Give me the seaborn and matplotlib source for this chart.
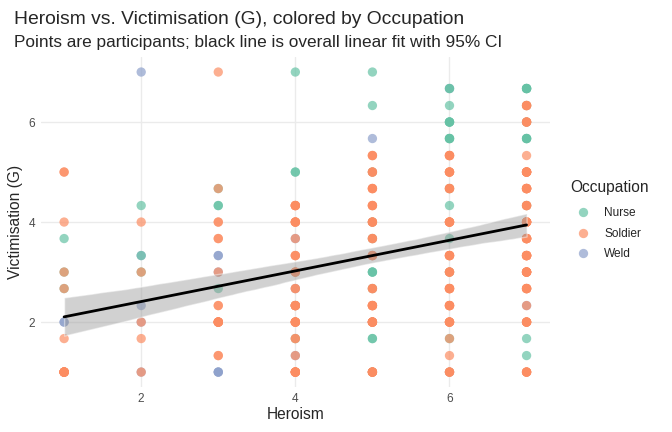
import matplotlib
matplotlib.use("Agg")
import matplotlib.pyplot as plt
import seaborn as sns
import pandas as pd

# participants: heroism, victimisation, occupation, how many stacked
heroism = [
    1, 1, 1, 1, 1, 1, 1, 1, 1, 1,
    2, 2, 2, 2, 2, 2, 2, 2, 2, 2, 2, 2, 2,
    3, 3, 3, 3, 3, 3, 3, 3, 3, 3, 3, 3, 3, 3,
    4, 4, 4, 4, 4, 4, 4, 4, 4, 4, 4, 4, 4, 4, 4, 4, 4, 4, 4,
    5, 5, 5, 5, 5, 5, 5, 5, 5, 5, 5, 5, 5, 5, 5, 5, 5, 5, 5, 5, 5, 5, 5,
    6, 6, 6, 6, 6, 6, 6, 6, 6, 6, 6, 6, 6, 6, 6, 6, 6, 6, 6, 6, 6, 6, 6,
    7, 7, 7, 7, 7, 7, 7, 7, 7, 7, 7, 7, 7, 7, 7, 7, 7, 7, 7, 7, 7, 7,
]
victimisation = [
    5, 4, 3.67, 3, 3, 2.67, 2.67, 2, 1.67, 1,
    7, 4.33, 4, 3.33, 3.33, 3, 3, 2.33, 2, 2, 1.67, 1, 1,
    7, 4.67, 4.67, 4.33, 4, 3.67, 3.33, 3, 3, 2.67, 2.33, 2, 1.33, 1,
    7, 5, 4.33, 4, 3.67, 3.67, 3.33, 3, 3, 2.67, 2.67, 2.33, 2.33, 2, 1.67, 1.67, 1.33, 1.33, 1,
    7, 6.33, 5.67, 5.33, 5, 5, 4.67, 4.33, 4, 4, 3.67, 3.67, 3.33, 3.33, 3, 2.67, 2.67, 2.33, 2, 2, 1.67, 1, 1,
    6.67, 6.67, 6.33, 6, 5.67, 5.33, 5, 4.67, 4.67, 4.33, 4, 3.67, 3.33, 3, 3, 2.67, 2.33, 2, 1.67, 1.67, 1.33, 1, 1,
    6.67, 6.33, 6.33, 6, 6, 5.67, 5.33, 5, 4.67, 4.33, 4.33, 4, 3.67, 3.33, 3, 2.67, 2.33, 2.33, 2, 1.67, 1.33, 1,
]
occupation = [
    "Soldier", "Soldier", "Nurse", "Soldier", "Nurse", "Soldier", "Nurse", "Weld", "Soldier", "Soldier",
    "Weld", "Nurse", "Soldier", "Nurse", "Weld", "Soldier", "Nurse", "Weld", "Soldier", "Weld", "Soldier", "Soldier", "Weld",
    "Soldier", "Soldier", "Nurse", "Nurse", "Soldier", "Soldier", "Weld", "Soldier", "Weld", "Nurse", "Soldier", "Soldier", "Soldier", "Weld",
    "Nurse", "Nurse", "Soldier", "Soldier", "Soldier", "Weld", "Soldier", "Soldier", "Nurse", "Soldier", "Weld", "Soldier", "Nurse", "Soldier", "Soldier", "Nurse", "Soldier", "Weld", "Soldier",
    "Nurse", "Nurse", "Weld", "Soldier", "Soldier", "Nurse", "Soldier", "Soldier", "Soldier", "Nurse", "Soldier", "Nurse", "Soldier", "Weld", "Nurse", "Soldier", "Nurse", "Soldier", "Soldier", "Weld", "Nurse", "Soldier", "Nurse",
    "Nurse", "Weld", "Nurse", "Nurse", "Nurse", "Soldier", "Soldier", "Soldier", "Nurse", "Nurse", "Soldier", "Nurse", "Soldier", "Soldier", "Nurse", "Soldier", "Soldier", "Soldier", "Soldier", "Nurse", "Soldier", "Soldier", "Weld",
    "Nurse", "Soldier", "Nurse", "Soldier", "Nurse", "Nurse", "Soldier", "Soldier", "Soldier", "Soldier", "Nurse", "Soldier", "Soldier", "Soldier", "Soldier", "Soldier", "Soldier", "Weld", "Soldier", "Nurse", "Nurse", "Soldier",
]
count = [
    2, 1, 1, 1, 1, 1, 1, 2, 1, 10,
    1, 1, 1, 1, 1, 1, 1, 1, 1, 1, 1, 1, 1,
    1, 1, 1, 2, 2, 2, 2, 1, 1, 1, 2, 8, 2, 3,
    1, 2, 5, 5, 1, 1, 3, 3, 1, 2, 1, 6, 1, 7, 2, 1, 1, 1, 8,
    1, 1, 1, 3, 3, 1, 4, 4, 4, 1, 3, 1, 4, 1, 3, 3, 1, 6, 7, 1, 2, 6, 1,
    2, 1, 1, 4, 4, 5, 5, 4, 1, 1, 6, 1, 6, 4, 1, 6, 6, 6, 1, 1, 1, 4, 1,
    5, 4, 1, 4, 1, 4, 1, 8, 8, 4, 1, 8, 8, 8, 8, 6, 1, 1, 6, 1, 1, 5,
]
occupations = ["Nurse", "Soldier", "Weld"]

df = pd.DataFrame({"Heroism": heroism, "Victimisation (G)": victimisation,
                   "Occupation": occupation, "n": count})
df = df.loc[df.index.repeat(df["n"])].reset_index(drop=True)
# welders at the bottom, soldiers drawn last
df["order"] = df["Occupation"].map({"Weld": 0, "Nurse": 1, "Soldier": 2})
df = df.sort_values("order", kind="stable")

sns.set_style("white")
plt.rcParams["font.family"] = ["Liberation Sans", "DejaVu Sans"]

fig = plt.figure(figsize=(6.72, 4.32), dpi=100)
ax = fig.add_axes([0.061, 0.104, 0.757, 0.764])

sns.scatterplot(data=df, x="Heroism", y="Victimisation (G)", hue="Occupation",
                hue_order=occupations, palette="Set2", alpha=0.7, s=45,
                edgecolor="none", ax=ax, zorder=2)
sns.regplot(data=df, x="Heroism", y="Victimisation (G)", scatter=False, ci=95,
            color="black", line_kws={"lw": 2}, ax=ax, seed=1)
# ggplot-like grey ribbon
for coll in ax.collections[1:]:
    coll.set_facecolor("#999999")
    coll.set_alpha(0.45)
    coll.set_zorder(3)
ax.lines[-1].set_zorder(4)

ax.set_xlim(0.7, 7.3)
ax.set_ylim(0.7, 7.3)
ax.set_xticks([2, 4, 6])
ax.set_yticks([2, 4, 6])
ax.grid(True, color="#ebebeb", lw=1)
ax.set_axisbelow(True)
for sp in ax.spines.values():
    sp.set_visible(False)
ax.tick_params(length=0, labelsize=8.6, labelcolor="#4d4d4d", pad=4)
ax.set_xlabel("Heroism", fontsize=11.2, labelpad=2)
ax.set_ylabel("Victimisation (G)", fontsize=11.2, labelpad=4)

handles, labels = ax.get_legend_handles_labels()
leg = ax.legend(handles[:3], labels[:3], title="Occupation", frameon=False,
                loc="center left", bbox_to_anchor=(1.02, 0.5), fontsize=8.6,
                title_fontsize=11.2, handletextpad=0.8, labelspacing=0.7,
                alignment="left")
leg.get_title().set_position((0, 4))

fig.text(0.021, 0.955, "Heroism vs. Victimisation (G), colored by Occupation",
         fontsize=13.85, va="center")
fig.text(0.021, 0.902, "Points are participants; black line is overall linear fit with 95% CI",
         fontsize=12.4, va="center")

fig.savefig("out.png", dpi=100)
